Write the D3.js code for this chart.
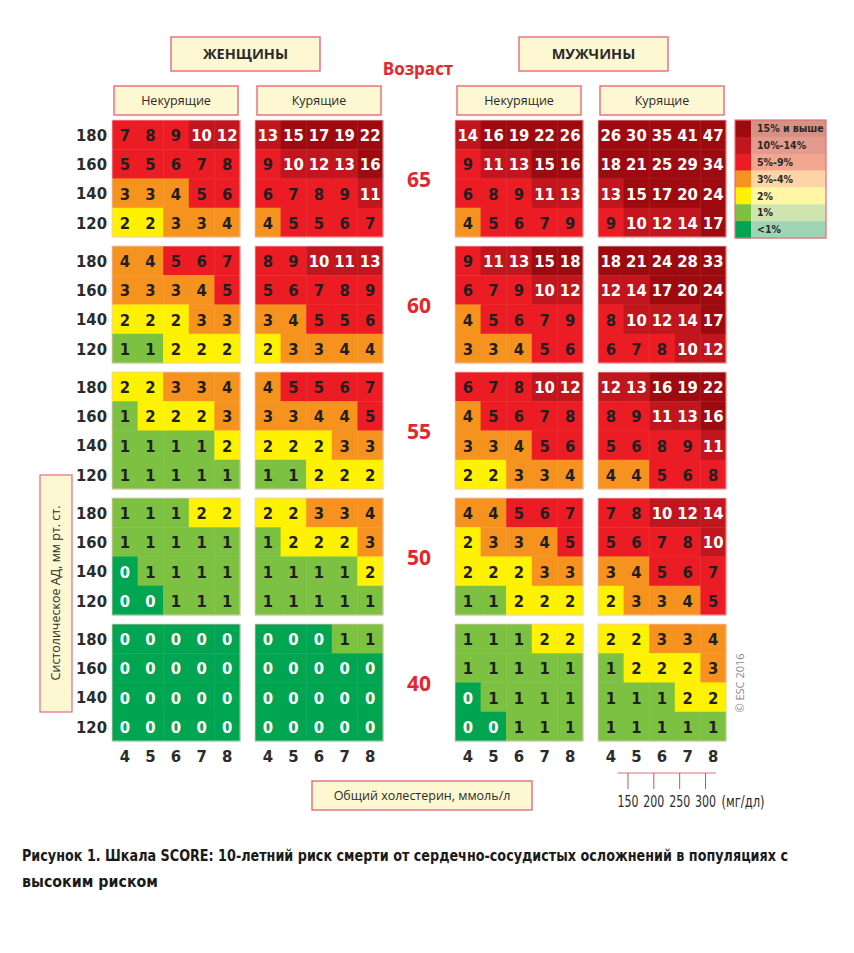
<!DOCTYPE html>
<html><head><meta charset="utf-8">
<script src="https://cdn.jsdelivr.net/npm/d3@7"></script>
<style>body{margin:0;background:#fff}svg{display:block}</style>
</head><body>
<svg id="chart" width="854" height="953"></svg>
<script>
// ---------- DATA ----------
const ages = [65, 60, 55, 50, 40];
const sbpLevels = [180, 160, 140, 120];
const cholesterol = [4, 5, 6, 7, 8];
const mgdlTicks = [150, 200, 250, 300];
const sexLabels = ["ЖЕНЩИНЫ", "МУЖЧИНЫ"];
const smokeLabels = ["Некурящие", "Курящие"];
const riskLabels = ["15% и выше", "10%-14%", "5%-9%", "3%-4%", "2%", "1%", "<1%"];
const riskThresholds = [15, 10, 5, 3, 2, 1, 0];

// rows: SBP 180,160,140,120 ; cols: cholesterol 4..8 ; blocks by age 65,60,55,50,40
const womenNonSmoker = [
  [[7,8,9,10,12],[5,5,6,7,8],[3,3,4,5,6],[2,2,3,3,4]],
  [[4,4,5,6,7],[3,3,3,4,5],[2,2,2,3,3],[1,1,2,2,2]],
  [[2,2,3,3,4],[1,2,2,2,3],[1,1,1,1,2],[1,1,1,1,1]],
  [[1,1,1,2,2],[1,1,1,1,1],[0,1,1,1,1],[0,0,1,1,1]],
  [[0,0,0,0,0],[0,0,0,0,0],[0,0,0,0,0],[0,0,0,0,0]]
];
const womenSmoker = [
  [[13,15,17,19,22],[9,10,12,13,16],[6,7,8,9,11],[4,5,5,6,7]],
  [[8,9,10,11,13],[5,6,7,8,9],[3,4,5,5,6],[2,3,3,4,4]],
  [[4,5,5,6,7],[3,3,4,4,5],[2,2,2,3,3],[1,1,2,2,2]],
  [[2,2,3,3,4],[1,2,2,2,3],[1,1,1,1,2],[1,1,1,1,1]],
  [[0,0,0,1,1],[0,0,0,0,0],[0,0,0,0,0],[0,0,0,0,0]]
];
const menNonSmoker = [
  [[14,16,19,22,26],[9,11,13,15,16],[6,8,9,11,13],[4,5,6,7,9]],
  [[9,11,13,15,18],[6,7,9,10,12],[4,5,6,7,9],[3,3,4,5,6]],
  [[6,7,8,10,12],[4,5,6,7,8],[3,3,4,5,6],[2,2,3,3,4]],
  [[4,4,5,6,7],[2,3,3,4,5],[2,2,2,3,3],[1,1,2,2,2]],
  [[1,1,1,2,2],[1,1,1,1,1],[0,1,1,1,1],[0,0,1,1,1]]
];
const menSmoker = [
  [[26,30,35,41,47],[18,21,25,29,34],[13,15,17,20,24],[9,10,12,14,17]],
  [[18,21,24,28,33],[12,14,17,20,24],[8,10,12,14,17],[6,7,8,10,12]],
  [[12,13,16,19,22],[8,9,11,13,16],[5,6,8,9,11],[4,4,5,6,8]],
  [[7,8,10,12,14],[5,6,7,8,10],[3,4,5,6,7],[2,3,3,4,5]],
  [[2,2,3,3,4],[1,2,2,2,3],[1,1,1,2,2],[1,1,1,1,1]]
];

// ---------- STYLE ----------
const riskColors = ["#9d0b10", "#c1161d", "#ec1c24", "#f6921e", "#fff200", "#7cc142", "#00a551"];
const riskTints  = ["#d59283", "#e29b8d", "#f2a68f", "#fcd4a5", "#fff7a6", "#cfe4ae", "#9fd5b4"];
const boxFill = "#fdf8d2", boxStroke = "#e66a7c", redText = "#e4262d", darkText = "#2b2b2b";
const numFont = "'Liberation Sans Narrow','DejaVu Sans Condensed',sans-serif";
const textFont = "'Open Sans','Noto Sans',sans-serif";

const svg = d3.select("#chart");

const panels = [
  {data: womenNonSmoker, sex: 0, smoke: 0, x: 112},
  {data: womenSmoker,    sex: 0, smoke: 1, x: 255},
  {data: menNonSmoker,   sex: 1, smoke: 0, x: 455},
  {data: menSmoker,      sex: 1, smoke: 1, x: 598}
];
const panelW = 128;

const yAge = d3.scaleBand().domain(ages).range([120, 741]).paddingInner(9/126).paddingOuter(0);
const yRow = d3.scaleBand().domain(sbpLevels).range([0, yAge.bandwidth()]);
const xCol = d3.scaleBand().domain(cholesterol).range([0, panelW]);

const levelOf = v => riskThresholds.findIndex(t => v >= t);
const colorScale = v => riskColors[levelOf(v)];
const textColor = v => (v === 0 || v >= 10) ? "#ffffff" : "#1f1f1f";

// ---------- HEADERS ----------
function box(x, y, w, h, label, size, weight, g) {
  const gg = (g || svg).append("g");
  gg.append("rect").attr("x", x).attr("y", y).attr("width", w).attr("height", h)
    .attr("fill", boxFill).attr("stroke", boxStroke).attr("stroke-width", 1.4);
  gg.append("text").attr("x", x + w/2).attr("y", y + h/2).attr("dy", "0.36em")
    .attr("text-anchor", "middle").attr("font-family", textFont).attr("font-size", size)
    .attr("font-weight", weight).attr("fill", darkText).text(label);
  return gg;
}
const sexBoxX = [171, 519];
sexLabels.forEach((s, i) => box(sexBoxX[i], 37, 149, 34, s, 14.5, 700));
panels.forEach(p => box(p.x + 2, 86, 124, 29, smokeLabels[p.smoke], 12.5, 400));

svg.append("text").attr("x", 418).attr("y", 75).attr("text-anchor", "middle")
  .attr("font-family", textFont).attr("font-weight", 700).attr("font-size", 17)
  .attr("fill", redText).text("Возраст");

// ---------- GRIDS ----------
panels.forEach(p => {
  const pg = svg.append("g").attr("transform", `translate(${p.x},0)`);
  ages.forEach((age, ai) => {
    const bg = pg.append("g").attr("transform", `translate(0,${yAge(age)})`);
    const cells = [];
    sbpLevels.forEach((s, ri) => cholesterol.forEach((c, ci) => cells.push({s, c, v: p.data[ai][ri][ci]})));
    bg.selectAll("rect.cell").data(cells).join("rect").attr("class", "cell")
      .attr("x", d => xCol(d.c)).attr("y", d => yRow(d.s))
      .attr("width", xCol.bandwidth() + 0.4).attr("height", yRow.bandwidth() + 0.4)
      .attr("fill", d => colorScale(d.v));
    bg.append("rect").attr("width", panelW).attr("height", yAge.bandwidth())
      .attr("fill", "none").attr("stroke", "#f3c9c9").attr("stroke-width", 0.8);
    bg.selectAll("text.val").data(cells).join("text").attr("class", "val")
      .attr("x", d => xCol(d.c) + xCol.bandwidth()/2)
      .attr("y", d => yRow(d.s) + yRow.bandwidth()/2 + 6.5)
      .attr("text-anchor", "middle").attr("font-family", numFont).attr("font-weight", 700)
      .attr("font-size", 16.5).attr("fill", d => textColor(d.v)).text(d => d.v);
  });
  // cholesterol axis
  const ax = d3.axisBottom(xCol).tickSize(0).tickPadding(0);
  const axg = pg.append("g").attr("transform", `translate(0,748)`).call(ax);
  axg.select(".domain").remove();
  axg.selectAll("text").attr("font-family", numFont).attr("font-weight", 700)
    .attr("font-size", 16.5).attr("fill", darkText).attr("dy", "0.85em");
});

// SBP labels (left)
ages.forEach(age => {
  const ay = d3.axisLeft(yRow).tickSize(0).tickPadding(0);
  const g = svg.append("g").attr("transform", `translate(107,${yAge(age)})`).call(ay);
  g.select(".domain").remove();
  g.selectAll("text").attr("font-family", numFont).attr("font-weight", 700)
    .attr("font-size", 16.5).attr("fill", darkText).attr("dy", "0.38em");
});

// Age labels
svg.selectAll("text.age").data(ages).join("text").attr("class", "age")
  .attr("x", 419).attr("y", d => yAge(d) + yAge.bandwidth()/2 + 8)
  .attr("text-anchor", "middle").attr("font-family", textFont).attr("font-weight", 700)
  .attr("font-size", 21).attr("fill", redText).text(d => d);

// ---------- LEGEND ----------
const lg = svg.append("g").attr("transform", "translate(735,120)");
const legY = d3.scaleBand().domain(riskLabels).range([0, 118]);
lg.selectAll("rect.tint").data(riskLabels).join("rect").attr("class", "tint")
  .attr("x", 0).attr("y", d => legY(d)).attr("width", 91).attr("height", legY.bandwidth() + 0.3)
  .attr("fill", (d, i) => riskTints[i]);
lg.selectAll("rect.sw").data(riskLabels).join("rect").attr("class", "sw")
  .attr("x", 0).attr("y", d => legY(d)).attr("width", 16).attr("height", legY.bandwidth() + 0.3)
  .attr("fill", (d, i) => riskColors[i]);
lg.selectAll("text").data(riskLabels).join("text")
  .attr("x", 22).attr("y", d => legY(d) + legY.bandwidth()/2).attr("dy", "0.35em")
  .attr("font-family", numFont).attr("font-weight", 700).attr("font-size", 10.5)
  .attr("fill", "#2a2a2a").text(d => d);
lg.append("rect").attr("x", 0).attr("y", 0).attr("width", 91).attr("height", 118)
  .attr("fill", "none").attr("stroke", boxStroke).attr("stroke-width", 1.2);

// ---------- SIDE LABEL ----------
const side = svg.append("g");
side.append("rect").attr("x", 40).attr("y", 475).attr("width", 32).attr("height", 237)
  .attr("fill", boxFill).attr("stroke", boxStroke).attr("stroke-width", 1.2);
side.append("text").attr("transform", "translate(56,593) rotate(-90)").attr("dy", "0.35em")
  .attr("text-anchor", "middle").attr("font-family", textFont).attr("font-size", 12.5)
  .attr("fill", darkText).text("Систолическое АД, мм рт. ст.");

svg.append("text").attr("transform", "translate(740,683) rotate(-90)").attr("dy", "0.35em")
  .attr("text-anchor", "middle").attr("font-family", textFont).attr("font-size", 11)
  .attr("fill", "#8a8a8a").text("© ESC 2016");

// ---------- BOTTOM ----------
box(312, 781, 220, 29, "Общий холестерин, ммоль/л", 12.5, 400);

const menSm = panels[3];
const mgX = d3.scaleLinear().domain([150, 300])
  .range([menSm.x + xCol(4) + xCol.bandwidth()*1.17, menSm.x + xCol(7) + xCol.bandwidth()*1.2]);
const mg = svg.append("g");
mg.append("line").attr("x1", mgX(130)).attr("x2", mgX(320)).attr("y1", 773).attr("y2", 773)
  .attr("stroke", "#e66a7c").attr("stroke-width", 1);
mg.selectAll("line.t").data(mgdlTicks).join("line").attr("class", "t")
  .attr("x1", d => mgX(d)).attr("x2", d => mgX(d)).attr("y1", 773).attr("y2", 789)
  .attr("stroke", "#d84a5e").attr("stroke-width", 1);
mg.selectAll("text").data(mgdlTicks).join("text")
  .attr("x", d => mgX(d) - 10.5).attr("y", 807)
  .attr("textLength", 21).attr("lengthAdjust", "spacingAndGlyphs")
  .attr("font-family", numFont).attr("font-size", 16).attr("fill", darkText).text(d => d);
mg.append("text").attr("x", mgX(300) + 16).attr("y", 807)
  .attr("textLength", 43).attr("lengthAdjust", "spacingAndGlyphs")
  .attr("font-family", numFont).attr("font-size", 16).attr("fill", darkText).text("(мг/дл)");

// ---------- CAPTION ----------
const cap = svg.append("g").attr("font-family", numFont).attr("font-weight", 700)
  .attr("font-size", 15).attr("fill", "#1a1a1a");
cap.append("text").attr("x", 22).attr("y", 861)
  .attr("textLength", 766).attr("lengthAdjust", "spacingAndGlyphs")
  .text("Рисунок 1. Шкала SCORE: 10-летний риск смерти от сердечно-сосудистых осложнений в популяциях с");
cap.append("text").attr("x", 22).attr("y", 887)
  .attr("textLength", 136).attr("lengthAdjust", "spacingAndGlyphs")
  .text("высоким риском");
</script>
</body></html>
